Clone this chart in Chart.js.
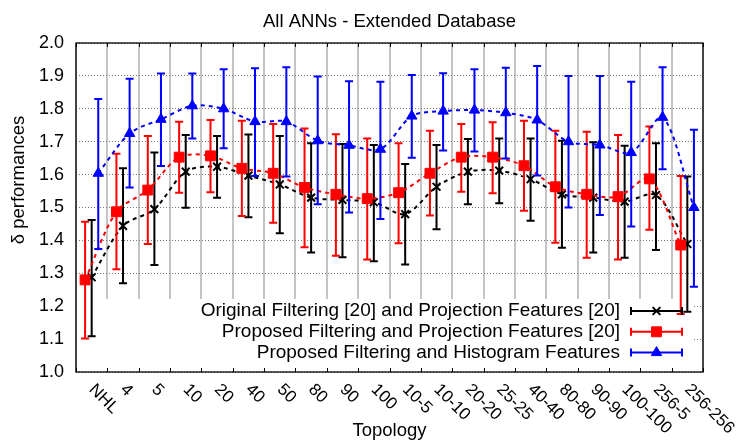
<!DOCTYPE html>
<html>
<head>
<meta charset="utf-8">
<script src="https://cdn.jsdelivr.net/npm/chart.js@4.4.0/dist/chart.umd.min.js"></script>
<style>
  html, body { margin: 0; padding: 0; background: #fff; }
</style>
</head>
<body>
<canvas id="chart" width="740" height="440"></canvas>
<script>
// categories along x
const topologies = ['NHL', '4', '5', '10', '20', '40', '50', '80', '90', '100',
    '10-5', '10-10', '20-20', '25-25', '40-40', '80-80', '90-90', '100-100', '256-5', '256-256'];

// Original Filtering [20] and Projection Features [20]  (black)
const origMean = [1.288, 1.444, 1.495, 1.609, 1.624, 1.597, 1.570, 1.530, 1.523, 1.516,
    1.480, 1.563, 1.609, 1.612, 1.586, 1.540, 1.530, 1.518, 1.538, 1.389];
const origLow  = [1.109, 1.270, 1.325, 1.499, 1.530, 1.470, 1.422, 1.363, 1.349, 1.337,
    1.327, 1.434, 1.510, 1.513, 1.460, 1.378, 1.363, 1.347, 1.371, 1.183];
const origHigh = [1.462, 1.619, 1.667, 1.720, 1.717, 1.722, 1.717, 1.695, 1.693, 1.690,
    1.632, 1.690, 1.708, 1.710, 1.710, 1.703, 1.698, 1.688, 1.695, 1.594];

// Proposed Filtering and Projection Features [20]  (red)
const projMean = [1.280, 1.487, 1.553, 1.653, 1.657, 1.619, 1.604, 1.561, 1.540, 1.527,
    1.545, 1.604, 1.653, 1.653, 1.627, 1.563, 1.540, 1.533, 1.587, 1.386];
const projLow  = [1.102, 1.312, 1.389, 1.545, 1.546, 1.474, 1.454, 1.379, 1.353, 1.342,
    1.391, 1.476, 1.548, 1.543, 1.490, 1.393, 1.347, 1.342, 1.432, 1.176];
const projHigh = [1.457, 1.663, 1.717, 1.761, 1.766, 1.764, 1.754, 1.740, 1.723, 1.710,
    1.695, 1.733, 1.754, 1.759, 1.764, 1.733, 1.730, 1.720, 1.746, 1.596];

// Proposed Filtering and Histogram Features  (blue)
const histMean = [1.604, 1.725, 1.768, 1.809, 1.800, 1.761, 1.761, 1.703, 1.689, 1.677,
    1.778, 1.793, 1.796, 1.788, 1.766, 1.700, 1.690, 1.667, 1.774, 1.500];
const histLow  = [1.374, 1.561, 1.626, 1.710, 1.680, 1.596, 1.594, 1.510, 1.485, 1.465,
    1.651, 1.673, 1.670, 1.649, 1.597, 1.500, 1.477, 1.442, 1.616, 1.259];
const histHigh = [1.830, 1.891, 1.907, 1.907, 1.920, 1.923, 1.926, 1.898, 1.884, 1.882,
    1.903, 1.908, 1.920, 1.925, 1.930, 1.900, 1.900, 1.882, 1.926, 1.736];

const yTicks = [1.0, 1.1, 1.2, 1.3, 1.4, 1.5, 1.6, 1.7, 1.8, 1.9, 2.0];

const FONT = '"Liberation Sans", Arial, sans-serif';
Chart.defaults.font.family = FONT;
Chart.defaults.color = '#000';

// side-by-side shift of the three series inside one category slot
const SHIFT = 0.21;

const series = [
    { label: 'Original Filtering [20] and Projection Features [20]', color: '#000000',
      mean: origMean, low: origLow, high: origHigh, shift: 0, style: 'crossRot', radius: 5.5, order: 3 },
    { label: 'Proposed Filtering and Projection Features [20]', color: '#ff0000',
      mean: projMean, low: projLow, high: projHigh, shift: -SHIFT, style: 'rect', radius: 7, order: 2 },
    { label: 'Proposed Filtering and Histogram Features', color: '#0000ff',
      mean: histMean, low: histLow, high: histHigh, shift: SHIFT, style: 'triangle', radius: 6, order: 1 }
];

function markerAt(ctx, s, x, y) {
    ctx.save();
    ctx.fillStyle = s.color;
    ctx.strokeStyle = s.color;
    ctx.lineWidth = s.style === 'crossRot' ? 2 : 1;
    ctx.setLineDash([]);
    Chart.helpers.drawPoint(ctx, { pointStyle: s.style, radius: s.radius, rotation: 0,
        borderWidth: ctx.lineWidth }, x, y);
    ctx.restore();
}

const gnuplotLook = {
    id: 'gnuplotLook',
    beforeDatasetsDraw(chart) {
        // white key box hides the grid behind it
        const { ctx, chartArea: a } = chart;
        ctx.save();
        ctx.fillStyle = '#fff';
        ctx.fillRect(a.left + 1, 299, 692 - a.left - 1, a.bottom - 299 - 1);
        ctx.restore();
    },
    beforeDatasetDraw(chart, args) {
        // error bars under each series' line and markers
        const s = series[args.index];
        const { ctx } = chart;
        const yS = chart.scales.y;
        ctx.save();
        ctx.strokeStyle = s.color;
        ctx.lineWidth = 2;
        args.meta.data.forEach((pt, i) => {
            const yl = yS.getPixelForValue(s.low[i]);
            const yh = yS.getPixelForValue(s.high[i]);
            ctx.beginPath();
            ctx.moveTo(pt.x, yl); ctx.lineTo(pt.x, yh);
            ctx.moveTo(pt.x - 4, yl); ctx.lineTo(pt.x + 4, yl);
            ctx.moveTo(pt.x - 4, yh); ctx.lineTo(pt.x + 4, yh);
            ctx.stroke();
        });
        ctx.restore();
    },
    afterDatasetsDraw(chart) {
        const { ctx, chartArea: a } = chart;
        const xS = chart.scales.x;

        // frame + x tics on bottom and top
        ctx.save();
        ctx.strokeStyle = '#000';
        ctx.lineWidth = 1.3;
        ctx.strokeRect(a.left, a.top, a.right - a.left, a.bottom - a.top);
        ctx.lineWidth = 1;
        ctx.beginPath();
        for (let i = 0; i <= topologies.length; i++) {
            const px = Math.round(xS.getPixelForValue(i - 0.5)) + 0.5;
            ctx.moveTo(px, a.bottom); ctx.lineTo(px, a.bottom - 4);
            ctx.moveTo(px, a.top); ctx.lineTo(px, a.top + 4);
        }
        ctx.stroke();

        // rotated category labels
        ctx.fillStyle = '#000';
        ctx.font = '17px ' + FONT;
        ctx.textAlign = 'left';
        ctx.textBaseline = 'middle';
        topologies.forEach((t, i) => {
            ctx.save();
            ctx.translate(xS.getPixelForValue(i), a.bottom + 15);
            ctx.rotate(Math.PI / 4);
            ctx.fillText(t, 0, 0);
            ctx.restore();
        });

        // y label, sits a little above the middle like the original
        ctx.save();
        ctx.font = '18.5px ' + FONT;
        ctx.textAlign = 'center';
        ctx.translate(19, 180);
        ctx.rotate(-Math.PI / 2);
        ctx.fillText('δ performances', 0, 0);
        ctx.restore();

        // title
        ctx.font = '18.5px ' + FONT;
        ctx.textAlign = 'center';
        ctx.fillText('All ANNs - Extended Database', (a.left + a.right) / 2, 21.5);

        // key
        ctx.font = '19px ' + FONT;
        ctx.textAlign = 'right';
        series.forEach((s, k) => {
            const y = a.bottom - 61 + k * 20.8;
            ctx.fillStyle = '#000';
            ctx.fillText(s.label, 620, y);
            ctx.strokeStyle = s.color;
            ctx.lineWidth = 2;
            ctx.beginPath();
            ctx.moveTo(631, y); ctx.lineTo(682, y);
            ctx.moveTo(631, y - 4); ctx.lineTo(631, y + 4);
            ctx.moveTo(682, y - 4); ctx.lineTo(682, y + 4);
            ctx.stroke();
            markerAt(ctx, s, 656.5, y);
        });
        ctx.restore();
    }
};

new Chart(document.getElementById('chart'), {
    type: 'line',
    data: {
        datasets: series.map(s => ({
            label: s.label,
            data: s.mean.map((v, i) => ({ x: i + s.shift, y: v })),
            borderColor: s.color,
            backgroundColor: s.color,
            borderWidth: 2,
            borderDash: [4, 4],
            tension: 0.3,
            pointStyle: s.style,
            pointRadius: s.radius,
            pointHoverRadius: s.radius,
            pointBorderWidth: s.style === 'crossRot' ? 2 : 1,
            pointBackgroundColor: s.color,
            order: s.order
        }))
    },
    options: {
        responsive: false,
        animation: false,
        layout: { padding: { top: 43, right: 37, left: 0, bottom: 0 } },
        plugins: { legend: { display: false }, tooltip: { enabled: false } },
        scales: {
            x: {
                type: 'linear',
                min: -0.5,
                max: topologies.length - 0.5,
                afterBuildTicks: s => {
                    s.ticks = topologies.map((_, i) => ({ value: i - 0.5 }))
                        .concat({ value: topologies.length - 0.5 });
                },
                afterFit: s => { s.height = 68; },
                ticks: { display: false },
                grid: { color: '#c4c4c4', lineWidth: 2, drawTicks: false },
                border: { display: false },
                title: { display: true, text: 'Topology', font: { size: 18.5 },
                         padding: { top: 0, bottom: -2 } }
            },
            y: {
                min: 1.0,
                max: 2.0,
                afterBuildTicks: s => { s.ticks = yTicks.map(v => ({ value: v })); },
                afterFit: s => { s.width = 76; },
                ticks: { font: { size: 18 }, padding: 12, callback: v => v.toFixed(1) },
                grid: { color: '#777', lineWidth: 1, drawTicks: false },
                border: { display: false, dash: [1, 2] }
            }
        }
    },
    plugins: [gnuplotLook]
});
</script>
</body>
</html>
